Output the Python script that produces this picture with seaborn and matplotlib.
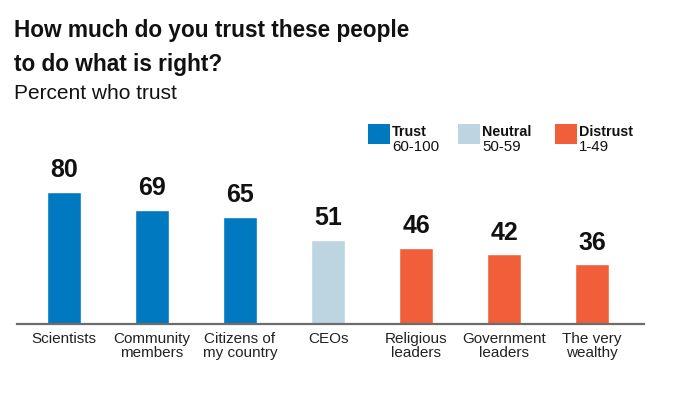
import matplotlib
matplotlib.use("Agg")
import pandas as pd
import seaborn as sns
from matplotlib import pyplot as plt
from matplotlib.patches import Rectangle

# data
people = ["Scientists", "Community\nmembers", "Citizens of\nmy country", "CEOs",
          "Religious\nleaders", "Government\nleaders", "The very\nwealthy"]
trust = [80, 69, 65, 51, 46, 42, 36]
group = ["Trust", "Trust", "Trust", "Neutral", "Distrust", "Distrust", "Distrust"]

legend_names = ["Trust", "Neutral", "Distrust"]
legend_ranges = ["60-100", "50-59", "1-49"]
colours = {"Trust": "#0079C1", "Neutral": "#BCD5E0", "Distrust": "#F15F3A"}

sns.set_theme(style="white")
plt.rcParams['font.family'] = ['Liberation Sans', 'DejaVu Sans']

W, H = 680, 393
fig = plt.figure(figsize=(W / 100, H / 100), dpi=100)
ax = fig.add_axes([17 / W, 1 - 323.5 / H, 627 / W, 164.4 / H])

df = pd.DataFrame({'people': people, 'trust': trust, 'group': group})
sns.barplot(ax=ax, data=df, x='people', y='trust', hue='group', palette=colours,
            dodge=False, width=0.386, legend=False, saturation=1)

for p, v in zip(ax.patches, trust):
    ax.annotate(str(v), (p.get_x() + p.get_width() / 2., p.get_height()), ha='center', va='bottom',
                xytext=(0, 7), textcoords='offset points', fontsize=18, fontweight='bold',
                color='#111111', annotation_clip=False)

ax.set_ylim(0, 100)
ax.set_xlim(-0.534, 6.59)
ax.set_xlabel('')
ax.set_ylabel('')
ax.set_yticks([])
for s in ['top', 'left', 'right']:
    ax.spines[s].set_visible(False)
ax.spines['bottom'].set_color('#6d6d6d')
ax.spines['bottom'].set_linewidth(1.6)
ax.tick_params(axis='x', length=0, pad=6, labelsize=11, labelcolor='#222222')
for label in ax.get_xticklabels():
    label.set_linespacing(1.05)
    label.set_verticalalignment('top')

# titles
fig.text(14 / W, 1 - 37.3 / H, "How much do you trust these people", fontsize=16.3,
         fontweight='bold', color='#111111', va='baseline')
fig.text(14 / W, 1 - 71 / H, "to do what is right?", fontsize=16.3,
         fontweight='bold', color='#111111', va='baseline')
fig.text(14 / W, 1 - 99.3 / H, "Percent who trust", fontsize=15,
         color='#111111', va='baseline')

# legend
for i, (name, rng) in enumerate(zip(legend_names, legend_ranges)):
    x0 = [368, 458, 555][i]
    fig.add_artist(Rectangle((x0 / W, 1 - 144 / H), 22 / W, 20 / H, transform=fig.transFigure,
                             color=colours[name], lw=0))
    fig.text((x0 + 24) / W, 1 - 136 / H, name, fontsize=10.3, fontweight='bold',
             color='#111111', va='baseline')
    fig.text((x0 + 24) / W, 1 - 151 / H, rng, fontsize=10.8, color='#111111', va='baseline')

plt.savefig('out.png', dpi=100)
